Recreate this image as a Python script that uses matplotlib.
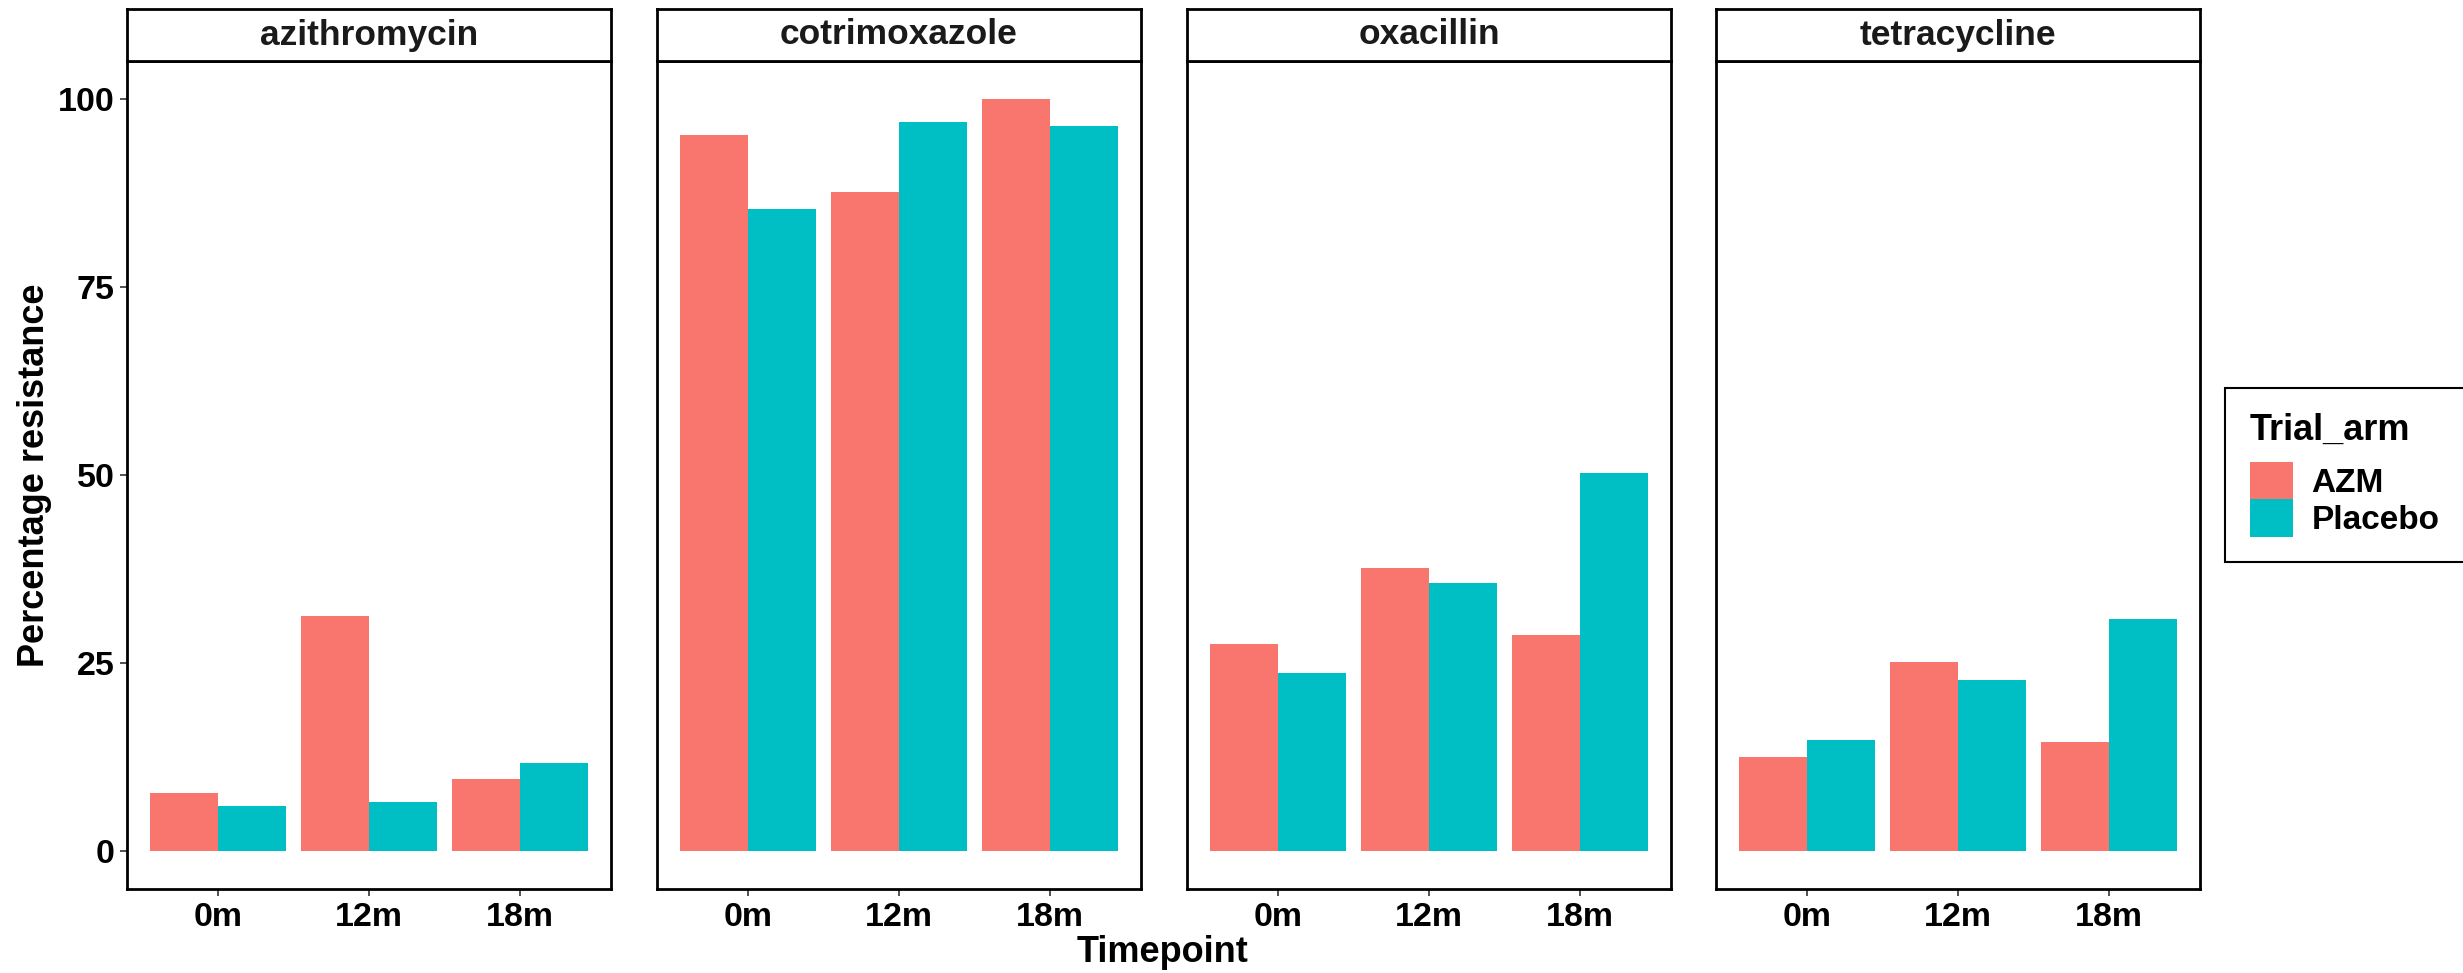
import numpy as np
import matplotlib
matplotlib.use("Agg")
import matplotlib.pyplot as plt
from matplotlib.patches import Patch

plt.rcParams['font.family'] = ['Liberation Sans', 'DejaVu Sans']
plt.rcParams['font.weight'] = 'bold'

# Data
drugs = ['azithromycin', 'cotrimoxazole', 'oxacillin', 'tetracycline']
timepoints = ['0m', '12m', '18m']
arms = ['AZM', 'Placebo']
azm_vals = {
    'azithromycin': [7.7, 31.3, 9.6],
    'cotrimoxazole': [95.2, 87.6, 100.0],
    'oxacillin': [27.6, 37.7, 28.7],
    'tetracycline': [12.6, 25.1, 14.5],
}
placebo_vals = {
    'azithromycin': [6.0, 6.6, 11.7],
    'cotrimoxazole': [85.4, 96.9, 96.3],
    'oxacillin': [23.7, 35.6, 50.2],
    'tetracycline': [14.8, 22.8, 30.9],
}
colors = ['#F8766D', '#00BFC4']

W, H = 2463, 973
fig = plt.figure(figsize=(W / 100, H / 100), dpi=100)

lefts = [127, 657, 1187, 1716]
pw = 484
top, bottom, strip_top = 61, 889, 9

x = np.arange(1, len(timepoints) + 1)
bw = 0.45
for i, drug in enumerate(drugs):
    ax = fig.add_axes([lefts[i] / W, (H - bottom) / H, pw / W, (bottom - top) / H])
    ax.bar(x - bw / 2, azm_vals[drug], width=bw, color=colors[0], linewidth=0)
    ax.bar(x + bw / 2, placebo_vals[drug], width=bw, color=colors[1], linewidth=0)
    ax.set_xlim(0.4, 3.6)
    ax.set_ylim(-5, 105)
    ax.set_xticks(x)
    ax.set_xticklabels(timepoints, fontsize=24.5, fontweight='bold')
    ax.set_yticks([0, 25, 50, 75, 100])
    if i == 0:
        ax.set_yticklabels(['0', '25', '50', '75', '100'], fontsize=24.5, fontweight='bold')
        ax.tick_params(axis='y', length=5, width=1.2, color='#333333', pad=4)
    else:
        ax.tick_params(axis='y', length=0, labelleft=False)
    ax.tick_params(axis='x', length=5, width=1.2, color='#333333', pad=4)
    for s in ax.spines.values():
        s.set_linewidth(2.0)
        s.set_color('black')

    # facet strip
    sax = fig.add_axes([lefts[i] / W, (H - top) / H, pw / W, (top - strip_top) / H])
    sax.set_xticks([])
    sax.set_yticks([])
    for s in sax.spines.values():
        s.set_linewidth(2.0)
        s.set_color('black')
    sax.text(0.5, 0.5, drug, ha='center', va='center', fontsize=25.5,
             fontweight='bold', color='#1A1A1A', transform=sax.transAxes)

fig.text(1163 / W, 1 - 952 / H, 'Timepoint', ha='center', va='center',
         fontsize=26, fontweight='bold')
fig.text(35 / W, 1 - 475 / H, 'Percentage resistance', ha='center', va='center',
         rotation=90, fontsize=26, fontweight='bold')

handles = [Patch(facecolor=c, edgecolor='none') for c in colors]
leg = fig.legend(handles, arms, loc='center left',
                 bbox_to_anchor=(2225 / W, 1 - 475 / H), borderaxespad=0,
                 prop={'size': 24, 'weight': 'bold'},
                 title='Trial_arm', title_fontproperties={'size': 26, 'weight': 'bold'},
                 handlelength=1.3, handleheight=1.35, labelspacing=0.0,
                 handletextpad=0.55, borderpad=0.75, fancybox=False,
                 edgecolor='black', framealpha=1)
leg._legend_box.align = 'left'
leg._legend_box.sep = 10
leg.get_frame().set_linewidth(1.5)

fig.savefig('out.png', dpi=100)
